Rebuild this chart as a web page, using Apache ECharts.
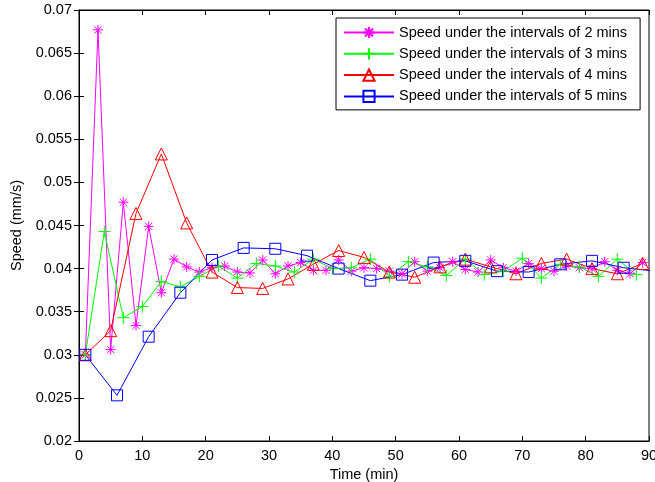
<!DOCTYPE html>
<html>
<head>
<meta charset="utf-8">
<script src="https://cdn.jsdelivr.net/npm/echarts@6/dist/echarts.min.js"></script>
<style>
  html, body { margin: 0; padding: 0; background: #fff; }
  #chart { width: 655px; height: 482px; }
</style>
</head>
<body>
<div id="chart"></div>
<script>
// Sampling times (min) for each interval
const t2 = [1,3,5,7,9,11,13,15,17,19,21,23,25,27,29,31,33,35,37,39,41,43,45,47,49,51,53,55,57,59,61,63,65,67,69,71,73,75,77,79,81,83,85,87,89];
const t3 = [1,4,7,10,13,16,19,22,25,28,31,34,37,40,43,46,49,52,55,58,61,64,67,70,73,76,79,82,85,88];
const t4 = [1,5,9,13,17,21,25,29,33,37,41,45,49,53,57,61,65,69,73,77,81,85,89];
const t5 = [1,6,11,16,21,26,31,36,41,46,51,56,61,66,71,76,81,86,91];

// Speed (mm/s)
const v2 = [0.0300,0.0677,0.0306,0.0477,0.0334,0.0449,0.0372,0.0411,0.0402,0.0396,0.0401,0.0403,0.0396,0.0395,0.0410,0.0394,0.0403,0.0407,0.0398,0.0398,0.0410,0.0397,0.0401,0.0400,0.0397,0.0394,0.0408,0.0397,0.0401,0.0408,0.0399,0.0396,0.0410,0.0401,0.0397,0.0406,0.0400,0.0397,0.0403,0.0401,0.0400,0.0408,0.0398,0.0394,0.0407];
const v3 = [0.0300,0.0443,0.0343,0.0356,0.0385,0.0379,0.0391,0.0403,0.0389,0.0406,0.0403,0.0396,0.0411,0.0400,0.0401,0.0411,0.0391,0.0408,0.0402,0.0392,0.0411,0.0393,0.0397,0.0412,0.0389,0.0405,0.0402,0.0391,0.0411,0.0393];
const v4 = [0.0300,0.0328,0.0464,0.0533,0.0453,0.0396,0.0378,0.0377,0.0388,0.0405,0.0421,0.0413,0.0396,0.0390,0.0402,0.0411,0.0402,0.0394,0.0406,0.0411,0.0400,0.0394,0.0406];
const v5 = [0.0300,0.0253,0.0321,0.0372,0.0410,0.0424,0.0423,0.0415,0.0400,0.0386,0.0393,0.0407,0.0409,0.0397,0.0396,0.0405,0.0409,0.0401,0.0397];

const seriesNames = [
  'Speed under the intervals of 2 mins',
  'Speed under the intervals of 3 mins',
  'Speed under the intervals of 4 mins',
  'Speed under the intervals of 5 mins'
];

const xTicks = [0,10,20,30,40,50,60,70,80,90];
const yTicks = ['0.02','0.025','0.03','0.035','0.04','0.045','0.05','0.055','0.06','0.065','0.07'];

const FONT = 'Liberation Sans, Arial, sans-serif';
const FS = 14.5;

// Marker shapes
const asterisk = 'path://M0,-1L0,1M-1,0L1,0M-0.72,-0.72L0.72,0.72M-0.72,0.72L0.72,-0.72';
const plus = 'path://M0,-1L0,1M-1,0L1,0';

function zip(xs, ys) { return xs.map((x, i) => [x, ys[i]]); }

function mkSeries(name, data, color, symbol, size) {
  return {
    name: name,
    type: 'line',
    data: data,
    symbol: symbol,
    symbolSize: size,
    showAllSymbol: true,
    animation: false,
    clip: true,
    lineStyle: { color: color, width: 1 },
    itemStyle: { color: 'rgba(0,0,0,0)', borderColor: color, borderWidth: 1 },
    emphasis: { disabled: true }
  };
}

const chart = echarts.init(document.getElementById('chart'), null, { renderer: 'canvas' });

const axisCommon = {
  axisLine: { show: true, lineStyle: { color: '#000', width: 1 } },
  axisTick: { show: true, inside: true, length: 5, lineStyle: { color: '#000' } },
  splitLine: { show: false }
};

chart.setOption({
  backgroundColor: '#fff',
  animation: false,
  grid: {
    left: 79, right: 6, top: 10, bottom: 41,
    containLabel: false,
    outerBoundsMode: 'none',
    show: true, borderColor: '#000', borderWidth: 1, backgroundColor: '#fff'
  },
  legend: {
    orient: 'vertical',
    left: 336, top: 18,
    padding: [7, 13, 6, 7],
    itemWidth: 50, itemHeight: 14, itemGap: 6.3,
    backgroundColor: '#fff',
    borderColor: '#000', borderWidth: 1,
    selectedMode: false,
    textStyle: { fontFamily: FONT, fontSize: FS, color: '#000' },
    data: seriesNames
  },
  xAxis: [
    Object.assign({
      type: 'value', min: xTicks[0], max: xTicks[xTicks.length - 1], interval: 10,
      position: 'bottom',
      name: 'Time (min)', nameLocation: 'middle', nameGap: 20,
      nameTextStyle: { fontFamily: FONT, fontSize: FS, color: '#000' },
      axisLabel: { fontFamily: FONT, fontSize: FS, color: '#000', margin: 7 }
    }, axisCommon),
    Object.assign({
      type: 'value', min: 0, max: 90, interval: 10, position: 'top',
      axisLabel: { show: false }
    }, axisCommon)
  ],
  yAxis: [
    Object.assign({
      type: 'value', min: 0.02, max: 0.07, interval: 0.005,
      position: 'left',
      name: 'Speed (mm/s)', nameLocation: 'middle', nameGap: 51,
      nameTextStyle: { fontFamily: FONT, fontSize: FS, color: '#000' },
      axisLabel: {
        fontFamily: FONT, fontSize: FS, color: '#000', margin: 7,
        formatter: function (v) {
          const i = Math.round((v - 0.02) / 0.005);
          return yTicks[i];
        }
      }
    }, axisCommon),
    Object.assign({
      type: 'value', min: 0.02, max: 0.07, interval: 0.005, position: 'right',
      axisLabel: { show: false }
    }, axisCommon)
  ],
  series: [
    mkSeries(seriesNames[0], zip(t2, v2), '#ff00ff', asterisk, 10),
    mkSeries(seriesNames[1], zip(t3, v3), '#00ff00', plus, 12),
    mkSeries(seriesNames[2], zip(t4, v4), '#ff0000', 'triangle', 12),
    mkSeries(seriesNames[3], zip(t5, v5), '#0000ff', 'rect', 11)
  ]
});
</script>
</body>
</html>
